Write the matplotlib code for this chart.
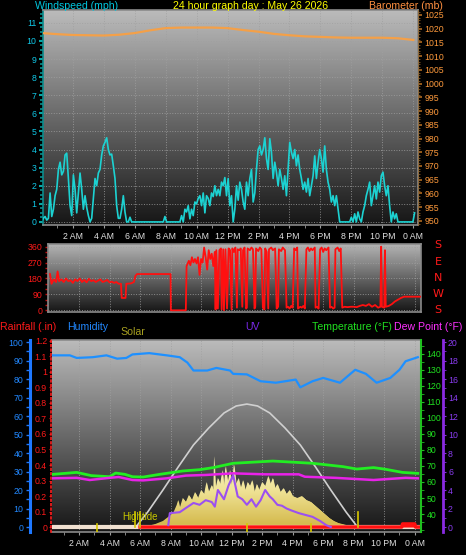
import numpy as np
import matplotlib
matplotlib.use('Agg')
import matplotlib.pyplot as plt
from matplotlib.colors import LinearSegmentedColormap
from matplotlib.ticker import MultipleLocator

plt.rcParams['font.family'] = ['Liberation Sans', 'DejaVu Sans']

# ---------------- data ----------------
hour_ticks = [2, 4, 6, 8, 10, 12, 14, 16, 18, 20, 22, 24]
hour_labels = ["2 AM", "4 AM", "6 AM", "8 AM", "10 AM", "12 PM", "2 PM", "4 PM",
               "6 PM", "8 PM", "10 PM", "0 AM"]

wind_step_h = 0.1075
wind_mph = [
    0, 0.2, 0.3, 0.1, 0.2, 1.6, 0.3, 0.7, 1.45, 1.8,
    2.9, 3.3, 2.6, 2.8, 3.7, 3.8, 2.4, 0.9, 0.35, 2.6,
    1.8, 0.5, 1.6, 2.7, 1.8, 0.7, 1.45, 0.8, 0.35, 0,
    0.2, 1.3, 2.4, 2.0, 2.7, 2.9, 3.7, 4.2, 4.4, 4.65,
    4.0, 3.7, 3.75, 3.1, 2.4, 0.9, 0.2, 0.2, 0.7, 1.45,
    0.55, 0, 0, 0.26, 0,
    0, 0, 0, 0, 0, 0, 0, 0, 0, 0, 0, 0, 0, 0, 0, 0, 0, 0, 0,
    0.3, 0,
    0, 0, 0, 0, 0, 0, 0, 0,
    0.35, 0, 0.7, 0.55, 0.9, 0.17, 0.7, 0.35, 1.1, 1.0,
    1.3, 1.45, 0.9, 1.6, 0.5, 1.45, 1.3, 0.9, 1.6, 1.4,
    2.0, 1.45, 1.8, 1.45, 2.2, 2.0, 2.45, 1.45,
    2.4, 0.9, 1.45, 0, 0.7, 2.0, 1.2, 2.2, 1.8, 1.1,
    0.7, 2.2, 1.45, 2.4, 2.9, 1.1, 1.6, 2.9, 4.0, 4.2,
    3.7, 4.0, 4.65, 3.5, 2.9, 4.6, 3.85, 2.4, 3.3, 2.75,
    2.0, 2.9, 2.4, 1.8, 2.55, 1.45, 2.9, 4.4, 3.85, 3.5,
    4.0, 3.1, 3.7, 2.9, 2.4, 1.8, 2.2, 1.65, 2.4, 1.45,
    2.0, 2.55, 3.65, 2.4, 3.3, 4.0, 3.5, 2.75, 4.2, 2.9,
    2.2, 1.8, 1.1, 1.45, 0.9, 1.45, 0.7,
    0, 0, 0, 0, 0, 0, 0,
    0.26, 0, 0.45, 0, 0.55, 0.17, 0, 0.55,
    0.9, 1.45, 1.8, 2.2, 0.9, 1.45, 2.0, 1.27, 2.2, 1.65,
    2.55, 2.75, 2.0, 1.45, 2.0, 0.9, 0, 0.55, 0.17, 0.45,
    0, 0, 0, 0, 0, 0, 0, 0, 0, 0,
    0.5,
]
wind_hours = np.arange(len(wind_mph)) * wind_step_h

baro_hours = list(range(25))
baro_mb = [1018.4, 1018.0, 1017.7, 1017.6, 1017.5, 1017.8, 1018.4, 1019.4, 1020.2,
           1020.4, 1020.4, 1020.4, 1020.2, 1019.5, 1018.9, 1018.1, 1017.6, 1017.2,
           1017.0, 1016.8, 1016.7, 1016.7, 1016.7, 1016.5, 1015.9]

wdir_hours = [0.1, 0.2, 0.35, 0.5, 0.6, 0.7, 0.85, 1.0, 1.15, 1.3, 1.45, 1.6, 1.75, 1.9,
              2.05, 2.2, 2.35, 2.5, 2.65, 2.8, 2.95, 3.1, 3.25, 3.4, 3.55, 3.7, 3.85,
              4.0, 4.15, 4.3, 4.45, 4.6, 4.75, 4.8, 5.05, 5.1, 5.4, 5.6, 5.7, 5.8, 8.0,
              8.02, 9.0, 9.05, 9.2, 9.3, 9.4, 9.5, 9.6, 9.7, 9.8, 9.9, 10.0, 10.1, 10.2,
              10.3, 10.4, 10.5, 10.6, 10.7, 10.8, 10.9, 10.95, 11.0, 11.1, 11.2, 11.3,
              11.35, 11.45, 11.5, 11.6, 11.7, 11.8, 11.9, 12.0, 12.05, 12.15, 12.25,
              12.35, 12.4, 12.5, 12.6, 12.7, 12.75, 12.85, 12.95, 13.0, 13.05, 13.2,
              13.3, 13.4, 13.5, 13.55, 13.6, 13.75, 13.85, 13.95, 14.05, 14.15, 14.2,
              14.3, 14.4, 14.45, 14.6, 14.7, 14.85, 14.95, 15.05, 15.1, 15.25, 15.35,
              15.5, 15.6, 15.7, 15.8, 15.9, 16.0, 16.1, 16.2, 16.3, 16.35, 16.5, 16.6,
              16.7, 16.8, 16.9, 17.0, 17.1, 17.2, 17.3, 17.45, 17.5, 17.6, 17.7, 17.8,
              17.9, 18.0, 18.1, 18.2, 18.35, 18.45, 18.55, 18.65, 18.75, 18.8, 18.95,
              19.05, 19.15, 19.25, 19.4, 19.6, 19.8, 20.0, 20.2, 20.4, 20.6, 20.8, 21.0,
              21.2, 21.4, 21.6, 21.75, 21.8, 21.85, 22.0, 22.05, 22.1, 22.3, 22.5, 22.7,
              22.9, 23.1, 23.3, 24.4]
wdir_deg = [205, 150, 175, 160, 220, 165, 175, 160, 180, 165, 170, 155, 175, 165,
            180, 160, 172, 158, 178, 165, 170, 160, 168, 175, 160, 165, 172,
            158, 162, 155, 160, 150, 150, 70, 70, 150, 152, 160, 195, 205, 205,
            0, 0, 250, 280, 255, 300, 270, 290, 265, 300, 200, 290, 270, 355,
            300, 230, 340, 290, 320, 250, 330, 5, 340, 10, 340, 350,
            5, 345, 0, 345, 10, 350, 340, 5, 350, 330, 355,
            15, 345, 340, 350, 20, 340, 355, 10, 15, 350, 340,
            355, 345, 10, 20, 350, 335, 355, 345, 15, 5, 350,
            330, 10, 345, 355, 340, 350, 10, 20, 345, 335, 355,
            340, 15, 20, 10, 25, 15, 350, 340, 355, 10, 20, 15,
            25, 10, 345, 355, 335, 350, 340, 355, 15, 20, 10, 345,
            355, 330, 350, 340, 355, 15, 20, 10, 15, 345, 355,
            335, 350, 15, 20, 18, 20, 20, 18, 25, 30, 25, 35,
            20, 30, 15, 20, 360, 20, 15, 340, 20, 25, 35, 50,
            60, 70, 77, 77]

hum_hours = [0.3, 1.4, 1.85, 2.9, 3.8, 4.5, 5.1, 5.5, 6.6, 7.75, 8.6, 9.1, 9.5, 10.4,
             11.0, 11.9, 12.1, 13.0, 13.9, 14.9, 16.2, 16.5, 17.3, 18.0, 19.1, 20.1,
             20.8, 21.5, 22.4, 23.0, 23.4, 24.2]
hum_pct = [92.8, 92.8, 91.4, 91.8, 92.8, 91.0, 91.4, 93.3, 94.0, 92.8, 91.8, 88.9, 84.6,
           84.6, 86.0, 84.6, 82.8, 82.5, 78.8, 78.0, 79.7, 75.5, 78.8, 80.6, 78.0, 85.0,
           82.8, 78.0, 80.6, 85.0, 89.6, 91.8]

temp_hours = [0.3, 1.85, 2.8, 4.0, 4.4, 5.0, 5.5, 6.2, 7.3, 8.8, 9.9, 10.8, 12.1, 14.7,
              17.3, 19.3, 20.2, 21.3, 22.0, 23.2, 24.2]
temp_f = [64.8, 66.0, 64.0, 63.3, 65.6, 64.8, 63.3, 63.1, 64.8, 66.9, 67.7, 69.0, 71.7,
          73.1, 71.7, 69.6, 68.1, 69.0, 68.1, 66.0, 65.4]
dew_hours = [0.3, 1.85, 2.7, 4.0, 4.6, 5.5, 6.2, 7.75, 9.0, 10.3, 12.1, 14.2, 16.4,
             16.8, 18.8, 21.3, 22.0, 23.4, 24.2]
dew_f = [62.3, 62.6, 61.25, 62.6, 63.1, 61.25, 61.0, 62.3, 64.0, 64.4, 65.4, 64.8,
         64.8, 63.3, 62.6, 61.25, 61.7, 62.6, 62.3]

uv_hours = [7.85, 7.95, 8.6, 9.0, 9.5, 9.9, 10.3, 10.7, 10.9, 11.1, 11.5, 11.8, 12.1,
            12.4, 12.7, 13.0, 13.3, 13.6, 13.9, 14.2, 14.5, 14.7, 15.0, 15.3, 15.6,
            15.9, 16.4, 17.3, 17.8, 18.2, 18.5]
uv_index = [0.2, 1.5, 1.6, 2.05, 2.6, 2.4, 2.9, 2.7, 2.2, 4.0, 3.0, 4.5, 5.6, 3.3,
            3.0, 2.4, 3.0, 2.2, 2.9, 4.0, 3.3, 3.0, 2.4, 2.3, 2.0, 1.8, 1.5, 1.1,
            0.65, 0.2, 0.0]

solar_hours = [6.0, 6.5, 7.0, 7.5, 8.0, 8.2, 8.4, 8.5, 8.6, 8.8, 9.0, 9.2, 9.4, 9.6,
               9.8, 10.0, 10.2, 10.35, 10.5, 10.7, 10.8, 10.85, 10.95, 11.1, 11.25,
               11.4, 11.5, 11.6, 11.75, 11.9, 12.0, 12.15, 12.3, 12.45, 12.6, 12.75,
               12.9, 13.05, 13.2, 13.35, 13.5, 13.65, 13.8, 14.0, 14.2, 14.4, 14.55,
               14.7, 14.85, 15.0, 15.2, 15.4, 15.6, 15.8, 16.0, 16.3, 16.6, 16.9, 17.2,
               17.5, 17.8, 18.1, 18.4, 18.7, 19.0, 19.5, 20.0, 20.3]
solar_wm2 = [0, 15, 29, 51, 94, 116, 167, 203, 145, 218, 189, 240, 203, 261,
             218, 276, 247, 334, 261, 312, 276, 523, 290, 363, 320,
             421, 305, 450, 334, 421, 305, 465, 320, 363, 290, 348,
             276, 334, 305, 348, 261, 320, 276, 334, 305, 378, 320,
             363, 290, 320, 261, 290, 247, 276, 232, 218, 232, 203, 189,
             160, 131, 102, 73, 51, 36, 22, 7, 0]

solarmax_hours = [5.67, 6.5, 7.5, 8.5, 9.5, 10.5, 11.5, 12.3, 13.0, 13.7, 14.5, 15.5,
                  16.5, 17.5, 18.5, 19.5, 20.3]
solarmax_wm2 = [0, 116, 276, 443, 603, 726, 835, 886, 900, 886, 835, 726, 603, 443,
                276, 116, 0]

rain_hours = [6.0, 23.15, 23.2, 24.0, 24.05, 24.4]
rain_in = [0.0, 0.0, 0.02, 0.02, 0.0, 0.0]

sun_event_hours = [5.67, 6.0, 20.3]
mini_mark_hours = [3.2, 13.0, 17.2]

# ---------------- figure ----------------
W, H = 466, 555
PX = 72 / 100  # points per pixel at 100 dpi
fig = plt.figure(figsize=(W / 100, H / 100), dpi=100, facecolor='black')


def rect(x0, y0, x1, y1):
    return [x0 / W, 1 - y1 / H, (x1 - x0) / W, (y1 - y0) / H]


def gradient(ax, c_top, c_bot):
    cmap = LinearSegmentedColormap.from_list('g', [c_bot, c_top])
    g = np.linspace(0, 1, 256).reshape(-1, 1)
    ax.imshow(g, extent=[0, 1, 0, 1], transform=ax.transAxes, origin='lower',
              aspect='auto', cmap=cmap, zorder=-10, interpolation='bilinear')


def frame(ax):
    for s in ax.spines.values():
        s.set_color('#8a8a8a')
        s.set_linewidth(1.2)


GRID = dict(color='#a0a0a0', linestyle=':', linewidth=0.7, alpha=0.8)
TICKFS = 6.3
LABFS = 7.6

# ---- top panel: wind speed + barometer ----
ax_w = fig.add_axes(rect(43, 10, 418, 225))
gradient(ax_w, '#bcbcbc', '#161616')
frame(ax_w)
ax_w.set_xlim(0.08, 24.3)
ax_w.set_ylim(-0.17, 11.71)
ax_w.set_xticks(hour_ticks)
ax_w.set_xticklabels(hour_labels, fontsize=TICKFS)
ax_w.xaxis.set_minor_locator(MultipleLocator(1))
ax_w.tick_params(axis='x', which='both', colors='#9a9a9a', length=3 * PX, pad=3,
                 labelcolor='#e0e0e0')
ax_w.set_yticks(range(0, 12))
ax_w.yaxis.set_minor_locator(MultipleLocator(0.25))
ax_w.tick_params(axis='y', which='major', colors='#0aa8a8', length=4 * PX, width=1.5,
                 labelcolor='#10c8e8', labelsize=TICKFS, pad=2)
ax_w.tick_params(axis='y', which='minor', colors='#0a9090', length=3 * PX, width=1.2)
ax_w.spines['left'].set_color('#0a8c8c')
ax_w.grid(True, which='major', **GRID)
ax_w.plot(wind_hours, wind_mph, color='#1cd2d2', lw=1.2, zorder=3)

ax_p = ax_w.twinx()
ax_p.set_ylim(948.5, 1026.8)
ax_p.set_yticks(range(950, 1026, 5))
ax_p.yaxis.set_minor_locator(MultipleLocator(1))
ax_p.tick_params(axis='y', which='major', colors='#b06a20', length=4 * PX, width=1.2,
                 labelcolor='#ff9a3c', labelsize=TICKFS, pad=2)
ax_p.tick_params(axis='y', which='minor', colors='#8a5a20', length=2 * PX)
for s in ax_p.spines.values():
    s.set_visible(False)
ax_p.spines['right'].set_visible(True)
ax_p.spines['right'].set_color('#8a6a40')
ax_p.plot(baro_hours, baro_mb, color='#f4a048', lw=1.6, zorder=3)

# ---- middle panel: wind direction ----
ax_d = fig.add_axes(rect(48, 244, 421, 312))
gradient(ax_d, '#b4b4b4', '#161616')
frame(ax_d)
ax_d.set_xlim(-0.03, 24.41)
ax_d.set_ylim(-9.6, 375)
ax_d.set_xticks(hour_ticks)
ax_d.tick_params(axis='x', length=0, labelbottom=False)
ax_d.set_yticks([0, 90, 180, 270, 360])
ax_d.yaxis.set_minor_locator(MultipleLocator(30))
ax_d.tick_params(axis='y', which='both', colors='#c01010', length=3 * PX, width=1,
                 labelcolor='#ff1a1a', labelsize=TICKFS, pad=2)
ax_d.grid(True, which='major', **GRID)
ax_d.plot(wdir_hours, wdir_deg, color='#ff1010', lw=1.3, zorder=3)

for lab, yy in zip(['S', 'E', 'N', 'W', 'S'], [245, 262, 278, 294, 310]):
    fig.text(438 / W, 1 - yy / H, lab, color='#ff1a1a', fontsize=8,
             ha='center', va='center', family=['DejaVu Sans'])

# ---- bottom panel ----
ax_h = fig.add_axes(rect(52, 340, 421, 532))
gradient(ax_h, '#bcbcbc', '#161616')
frame(ax_h)
ax_h.set_xlim(0.23, 24.41)
ax_h.set_ylim(-2.7, 101.1)
ax_h.set_xticks(hour_ticks)
ax_h.set_xticklabels(hour_labels, fontsize=TICKFS)
ax_h.xaxis.set_minor_locator(MultipleLocator(1))
ax_h.tick_params(axis='x', which='both', colors='#9a9a9a', length=3 * PX, pad=3,
                 labelcolor='#e0e0e0')
ax_h.set_yticks(range(0, 101, 10))
ax_h.yaxis.set_minor_locator(MultipleLocator(5))
ax_h.spines['left'].set_position(('outward', 22 * PX))
ax_h.spines['left'].set_color('#1e78ff')
ax_h.spines['left'].set_linewidth(2.2)
ax_h.tick_params(axis='y', which='both', colors='#1e78ff', length=4 * PX, width=1,
                 labelcolor='#2288ff', labelsize=TICKFS, pad=2)
ax_h.grid(True, which='major', axis='x', **GRID)

# solar
ax_s = ax_h.twinx()
poly = ax_s.fill_between(solar_hours, 0, solar_wm2, color='#eee08c', lw=0, zorder=2)
sun_cmap = LinearSegmentedColormap.from_list('sun', ['#d2b646', '#efe294', '#fcf7d0'])
sun_img = ax_s.imshow(np.linspace(0, 1, 128).reshape(-1, 1), origin='lower',
                      extent=[solar_hours[0], solar_hours[-1], 0, max(solar_wm2)],
                      aspect='auto', cmap=sun_cmap, zorder=2.1)
sun_img.set_clip_path(poly.get_paths()[0], transform=ax_s.transData)
ax_s.plot(solarmax_hours, solarmax_wm2, color='#d0d0d0', lw=1.2, zorder=3)
ax_s.set_xlim(0.23, 24.41)
ax_s.set_ylim(-29, 1365)
ax_s.axis('off')

# rain
ax_r = ax_h.twinx()
ax_r.set_ylim(-0.032, 1.206)
ax_r.yaxis.tick_left()
ax_r.set_yticks([0, 0.1, 0.2, 0.3, 0.4, 0.5, 0.6, 0.7, 0.8, 0.9, 1.0, 1.1, 1.2])
ax_r.set_yticklabels(['0', '0.1', '0.2', '0.3', '0.4', '0.5', '0.6', '0.7', '0.8',
                      '0.9', '1', '1.1', '1.2'])
ax_r.tick_params(axis='y', colors='#d01010', length=2 * PX, labelcolor='#ff1a1a',
                 labelsize=TICKFS, pad=1)
for s in ax_r.spines.values():
    s.set_visible(False)
ax_r.spines['left'].set_visible(True)
ax_r.spines['left'].set_position(('outward', 1.5 * PX))
ax_r.spines['left'].set_color('#ff2020')
ax_r.spines['left'].set_linestyle(':')
ax_r.spines['left'].set_linewidth(1.2)
ax_r.axhline(0, color='#f0e0d0', lw=3, zorder=2)
ax_r.plot(rain_hours, rain_in, color='#ff1010', lw=2.5, zorder=4)
ax_r.fill_between(rain_hours, 0, rain_in, color='#ff1010', lw=0, zorder=4)
for hh in sun_event_hours:
    ax_r.plot([hh, hh], [0, 0.1], color='#d8c800', lw=1.2, zorder=5)
for hh in mini_mark_hours:
    ax_r.plot([hh, hh], [-0.03, 0.02], color='#d8c800', lw=1.2, zorder=5)

# temperature / dew point
ax_t = ax_h.twinx()
ax_t.set_ylim(28.75, 148.75)
ax_t.set_yticks(range(40, 141, 10))
ax_t.yaxis.set_minor_locator(MultipleLocator(5))
ax_t.tick_params(axis='y', which='both', colors='#20c020', length=3 * PX,
                 labelcolor='#20e020', labelsize=TICKFS, pad=2)
for s in ax_t.spines.values():
    s.set_visible(False)
ax_t.spines['right'].set_visible(True)
ax_t.spines['right'].set_color('#20c020')
ax_t.spines['right'].set_linewidth(1.5)
ax_t.plot(temp_hours, temp_f, color='#22ee22', lw=2, zorder=4)
ax_t.plot(dew_hours, dew_f, color='#e822e8', lw=1.8, zorder=4)

# UV
ax_u = ax_h.twinx()
ax_u.set_ylim(-0.54, 20.22)
ax_u.set_yticks(range(0, 21, 2))
ax_u.yaxis.set_minor_locator(MultipleLocator(1))
ax_u.tick_params(axis='y', which='both', colors='#8a2be2', length=3 * PX,
                 labelcolor='#8a3cf0', labelsize=TICKFS, pad=1.5)
for s in ax_u.spines.values():
    s.set_visible(False)
ax_u.spines['right'].set_visible(True)
ax_u.spines['right'].set_position(('outward', 22 * PX))
ax_u.spines['right'].set_color('#8a2be2')
ax_u.spines['right'].set_linewidth(2)
ax_u.plot(uv_hours, uv_index, color='#9b50f0', lw=1.5, zorder=4)

# humidity line on top
ax_hl = ax_h.twinx()
ax_hl.set_ylim(-2.7, 101.1)
ax_hl.axis('off')
ax_hl.plot(hum_hours, hum_pct, color='#1e90ff', lw=1.6, zorder=5)

# ---- texts ----
fig.text(35 / W, 1 - 6 / H, 'Windspeed (mph)', color='#00c8e0', fontsize=LABFS,
         ha='left', va='center')
fig.text(251 / W, 1 - 6 / H, '24 hour graph day : May 26 2026', color='#ffff00',
         fontsize=LABFS, ha='center', va='center')
fig.text(443 / W, 1 - 6 / H, 'Barometer (mb)', color='#ff9040', fontsize=LABFS,
         ha='right', va='center')

fig.text(0 / W, 1 - 327 / H, 'Rainfall (.in)', color='#ff1a1a', fontsize=LABFS,
         ha='left', va='center')
fig.text(67 / W, 1 - 327 / H, 'Humidity', color='#2288ff', fontsize=LABFS,
         ha='left', va='center')
fig.text(120 / W, 1 - 332 / H, 'Solar', color='#a8a020', fontsize=LABFS,
         ha='left', va='center')
fig.text(245 / W, 1 - 327 / H, 'UV', color='#7a28e8', fontsize=LABFS,
         ha='left', va='center')
fig.text(312 / W, 1 - 327 / H, 'Temperature (°F)', color='#20e020', fontsize=LABFS,
         ha='left', va='center')
fig.text(462 / W, 1 - 327 / H, 'Dew Point (°F)', color='#ff30ff', fontsize=LABFS,
         ha='right', va='center')
fig.text(122 / W, 1 - 517 / H, 'Hightide', color='#c8c800', fontsize=7,
         ha='left', va='center')

fig.savefig('out.png', dpi=100, facecolor='black')
